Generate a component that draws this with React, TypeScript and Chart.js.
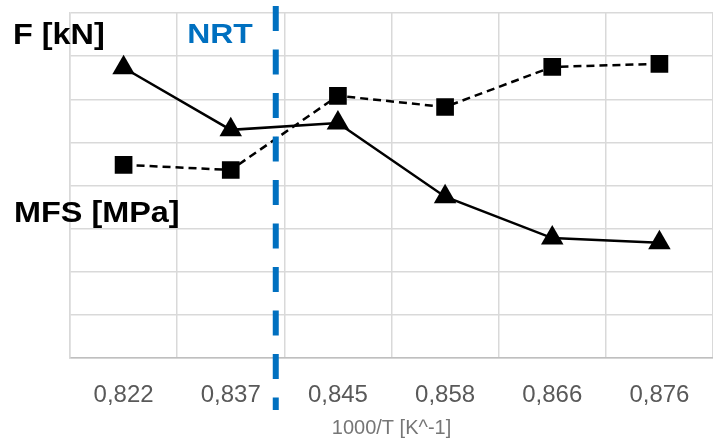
import React, { useEffect, useRef } from "react";
import { Chart, registerables } from "chart.js";

Chart.register(...registerables);

const categories = ["0,822", "0,837", "0,845", "0,858", "0,866", "0,876"];
const forceValues = [6.73, 5.29, 5.45, 3.74, 2.78, 2.67]; // triangles, solid
const mfsValues = [4.48, 4.36, 6.08, 5.82, 6.75, 6.82]; // squares, dashed
const nrtPosition = 1.42; // fractional category index of the NRT marker
const xAxisTitle = "1000/T [K^-1]";
const labelTop = "F [kN]";
const labelMid = "MFS [MPa]";
const labelNrt = "NRT";

function stretchedText(ctx: any, text: string, x: number, y: number, sx: number, align: string) {
  ctx.save();
  ctx.scale(sx, 1);
  ctx.textAlign = align;
  ctx.fillText(text, x / sx, y);
  ctx.restore();
}

const overlayPlugin = {
  id: "overlay",
  afterDatasetsDraw(chart: any) {
    const ctx = chart.ctx;
    const xs = chart.scales.x;
    const x = xs.getPixelForValue(nrtPosition);
    ctx.save();
    ctx.strokeStyle = "#0070C0";
    ctx.lineWidth = 6;
    ctx.setLineDash([25, 18.5]);
    ctx.beginPath();
    ctx.moveTo(x, 6);
    ctx.lineTo(x, 410);
    ctx.stroke();
    ctx.setLineDash([]);
    ctx.textBaseline = "alphabetic";
    ctx.fillStyle = "#000";
    ctx.font = "bold 30px 'Liberation Sans', Arial, sans-serif";
    stretchedText(ctx, labelTop, 13, 44, 1.08, "left");
    stretchedText(ctx, labelMid, 14, 222, 1.08, "left");
    ctx.fillStyle = "#0070C0";
    ctx.font = "bold 28px 'Liberation Sans', Arial, sans-serif";
    stretchedText(ctx, labelNrt, 220, 43, 1.14, "center");
    ctx.restore();
  },
};

export default function App() {
  const ref = useRef<HTMLCanvasElement>(null);
  useEffect(() => {
    if (!ref.current) return;
    const chart = new Chart(ref.current, {
      type: "line",
      data: {
        labels: categories,
        datasets: [
          {
            label: labelTop,
            data: forceValues,
            borderColor: "#000",
            backgroundColor: "#000",
            borderWidth: 2.5,
            pointStyle: "triangle",
            pointRadius: 13,
            pointBorderWidth: 0,
          },
          {
            label: labelMid,
            data: mfsValues,
            borderColor: "#000",
            backgroundColor: "#000",
            borderWidth: 2.5,
            borderDash: [8, 5],
            pointStyle: "rect",
            pointRadius: 12.5,
            pointBorderWidth: 0,
          },
        ],
      },
      plugins: [overlayPlugin],
      options: {
        animation: false,
        responsive: true,
        maintainAspectRatio: false,
        layout: { autoPadding: false, padding: { top: 13, right: 0, left: 0, bottom: 0 } },
        plugins: { legend: { display: false }, tooltip: { enabled: false } },
        scales: {
          x: {
            offset: true,
            grid: { offset: true, color: "#d9d9d9", lineWidth: 1.5, drawTicks: false },
            border: { color: "#bfbfbf", width: 1.5 },
            ticks: {
              color: "#595959",
              padding: 23,
              font: { family: "'Liberation Sans', Arial, sans-serif", size: 24 },
            },
            title: {
              display: true,
              text: xAxisTitle,
              color: "#767676",
              padding: { top: 0, bottom: 1 },
              font: { family: "'Liberation Sans', Arial, sans-serif", size: 20 },
            },
            afterFit(s: any) {
              s.height = 83;
              s.paddingLeft = 0;
              s.paddingRight = 0;
            },
          },
          y: {
            min: 0,
            max: 8,
            ticks: { display: false, stepSize: 1 },
            grid: { color: "#d9d9d9", lineWidth: 1.5, drawTicks: false },
            border: { color: "#d9d9d9", width: 1.5 },
            afterFit(s: any) {
              s.width = 70;
            },
          },
        },
      },
    });
    return () => chart.destroy();
  }, []);
  return (
    <div style={{ position: "absolute", left: 0, top: 0, width: 713, height: 441 }}>
      <canvas ref={ref} />
    </div>
  );
}
